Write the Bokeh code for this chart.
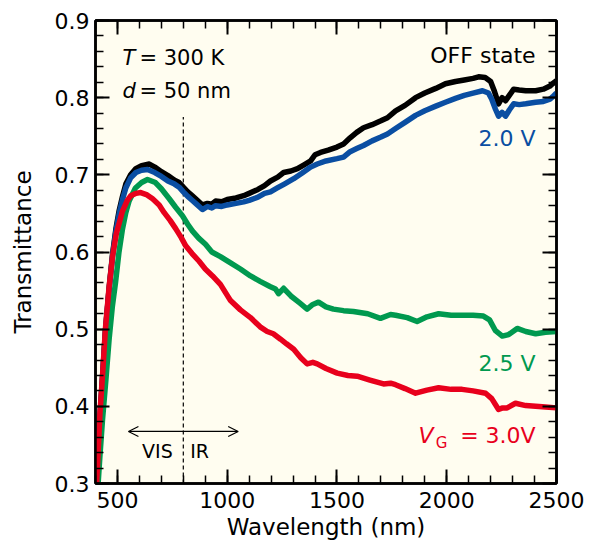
from bokeh.plotting import figure
from bokeh.models import (Range1d, LinearAxis, SingleIntervalTicker, Label, Arrow, OpenHead,
                          CustomJSTickFormatter)
from bokeh.embed import file_html
from bokeh.resources import INLINE

# ---- data ----
off_wl = [405, 412, 420, 432, 445, 462, 478, 493, 508, 523, 538, 560, 584, 610, 645, 670, 700, 730, 760, 781,
          800, 820, 840, 860, 887, 910, 930, 947, 975, 1000, 1040, 1075, 1100, 1140, 1170, 1197, 1230, 1257,
          1290, 1320, 1350, 1380, 1400, 1425, 1460, 1500, 1530, 1560, 1590, 1621, 1660, 1700, 1730, 1767,
          1810, 1858, 1900, 1950, 1994, 2040, 2080, 2120, 2145, 2175, 2200, 2215, 2236, 2252, 2268, 2285,
          2305, 2330, 2360, 2405, 2440, 2470, 2482, 2500]
off_t = [0.30, 0.34, 0.385, 0.438, 0.497, 0.553, 0.598, 0.630, 0.654, 0.672, 0.688, 0.700, 0.708, 0.712, 0.714,
         0.710, 0.704, 0.699, 0.693, 0.690, 0.684, 0.678, 0.673, 0.668, 0.661, 0.663, 0.662, 0.666, 0.665, 0.668,
         0.670, 0.673, 0.676, 0.681, 0.686, 0.692, 0.697, 0.703, 0.705, 0.708, 0.713, 0.718, 0.726, 0.729, 0.732,
         0.736, 0.740, 0.748, 0.755, 0.761, 0.765, 0.770, 0.774, 0.783, 0.790, 0.800, 0.806, 0.812, 0.818, 0.821,
         0.823, 0.825, 0.827, 0.826, 0.821, 0.810, 0.792, 0.800, 0.796, 0.803, 0.811, 0.810, 0.809, 0.809, 0.811,
         0.815, 0.818, 0.822]

v20_wl = [405, 412, 420, 432, 445, 462, 478, 493, 508, 523, 538, 560, 584, 610, 637, 670, 700, 730, 760, 781,
          800, 820, 840, 860, 887, 910, 930, 947, 975, 1000, 1040, 1075, 1100, 1140, 1170, 1197, 1228, 1260,
          1303, 1340, 1380, 1410, 1450, 1500, 1530, 1560, 1590, 1621, 1660, 1700, 1730, 1767, 1810, 1858, 1900,
          1950, 1994, 2040, 2080, 2120, 2163, 2190, 2205, 2222, 2236, 2252, 2268, 2285, 2305, 2330, 2360, 2405,
          2440, 2470, 2482, 2500]
v20_t = [0.30, 0.34, 0.385, 0.437, 0.496, 0.551, 0.596, 0.627, 0.650, 0.668, 0.683, 0.696, 0.703, 0.706, 0.707,
         0.703, 0.698, 0.692, 0.688, 0.684, 0.678, 0.672, 0.667, 0.662, 0.655, 0.659, 0.657, 0.660, 0.659, 0.661,
         0.663, 0.665, 0.667, 0.671, 0.676, 0.678, 0.683, 0.688, 0.695, 0.702, 0.710, 0.714, 0.718, 0.721, 0.723,
         0.730, 0.734, 0.738, 0.744, 0.749, 0.753, 0.760, 0.768, 0.777, 0.783, 0.789, 0.794, 0.799, 0.803, 0.806,
         0.809, 0.806, 0.798, 0.785, 0.776, 0.781, 0.776, 0.784, 0.792, 0.791, 0.792, 0.794, 0.795, 0.798, 0.801,
         0.806]

v25_wl = [412, 420, 432, 447, 462, 477, 491, 507, 523, 538, 553, 582, 610, 637, 673, 700, 736, 765, 796, 820,
          842, 870, 901, 930, 969, 1015, 1060, 1106, 1150, 1197, 1220, 1234, 1257, 1290, 1330, 1364, 1390, 1416,
          1450, 1484, 1530, 1575, 1640, 1698, 1744, 1767, 1820, 1865, 1910, 1963, 2020, 2070, 2120, 2167, 2195,
          2222, 2253, 2282, 2321, 2360, 2405, 2450, 2500]
v25_t = [0.30, 0.335, 0.383, 0.433, 0.487, 0.530, 0.560, 0.600, 0.630, 0.651, 0.666, 0.683, 0.690, 0.694, 0.690,
         0.682, 0.669, 0.658, 0.647, 0.636, 0.627, 0.618, 0.610, 0.600, 0.594, 0.586, 0.578, 0.569, 0.562, 0.555,
         0.552, 0.546, 0.553, 0.543, 0.534, 0.526, 0.532, 0.535, 0.529, 0.526, 0.524, 0.523, 0.520, 0.514, 0.519,
         0.518, 0.515, 0.510, 0.516, 0.520, 0.518, 0.518, 0.518, 0.517, 0.512, 0.498, 0.491, 0.493, 0.501, 0.497,
         0.494, 0.496, 0.497]

v30_wl = [405, 412, 420, 432, 445, 462, 478, 495, 523, 545, 561, 585, 606, 635, 660, 690, 713, 740, 766, 790,
          811, 840, 872, 900, 933, 969, 1015, 1060, 1106, 1150, 1182, 1210, 1243, 1270, 1303, 1335, 1364, 1390,
          1410, 1450, 1501, 1550, 1592, 1650, 1712, 1744, 1767, 1810, 1858, 1910, 1963, 2020, 2070, 2120, 2177,
          2205, 2236, 2255, 2275, 2313, 2360, 2405, 2450, 2500]
v30_t = [0.30, 0.34, 0.39, 0.44, 0.50, 0.555, 0.595, 0.624, 0.653, 0.667, 0.673, 0.676, 0.677, 0.674, 0.669,
         0.661, 0.651, 0.641, 0.630, 0.619, 0.608, 0.598, 0.588, 0.578, 0.569, 0.558, 0.537, 0.525, 0.515, 0.503,
         0.497, 0.494, 0.487, 0.481, 0.474, 0.463, 0.455, 0.457, 0.455, 0.449, 0.443, 0.440, 0.439, 0.434, 0.429,
         0.430, 0.428, 0.423, 0.417, 0.421, 0.424, 0.422, 0.422, 0.420, 0.417, 0.410, 0.396, 0.398, 0.398, 0.404,
         0.401, 0.400, 0.399, 0.398]

x_ticks_major = 500
x_ticks_minor_count = 5
y_ticks_major = 0.1
y_ticks_minor_count = 5
vis_ir_boundary = 800
boundary_top = 0.775
arrow_x = [550, 1050]
arrow_y = 0.3675

# ---- styles ----
FONT = "DejaVu Sans"
BG = "#FFFDF0"
C_OFF = "#000000"
C_20 = "#0A4EA2"
C_25 = "#00994F"
C_30 = "#E8001C"

p = figure(width=595, height=548, x_range=Range1d(400, 2500), y_range=Range1d(0.3, 0.9),
           output_backend="svg", toolbar_location=None,
           min_border_left=95, min_border_right=39, min_border_top=20, min_border_bottom=65,
           background_fill_color=BG, border_fill_color="white")
p.grid.visible = False
p.outline_line_color = "black"
p.outline_line_width = 2.5


def style_axis(ax, show_labels=True):
    ax.major_tick_in = 14
    ax.major_tick_out = 0
    ax.minor_tick_in = 8
    ax.minor_tick_out = 0
    ax.major_tick_line_width = 2
    ax.minor_tick_line_width = 1.5
    ax.major_tick_line_color = "black"
    ax.minor_tick_line_color = "black"
    ax.axis_line_width = 2.5
    ax.axis_line_color = "black"
    if show_labels:
        ax.major_label_text_font = FONT
        ax.major_label_text_font_size = "22px"
        ax.major_label_text_color = "black"
        ax.axis_label_text_font = FONT
        ax.axis_label_text_font_size = "23px"
        ax.axis_label_text_font_style = "normal"
        ax.axis_label_text_color = "black"
    else:
        ax.formatter = CustomJSTickFormatter(code="return ''")
        ax.major_label_standoff = 0


xt = SingleIntervalTicker(interval=x_ticks_major, num_minor_ticks=x_ticks_minor_count)
yt = SingleIntervalTicker(interval=y_ticks_major, num_minor_ticks=y_ticks_minor_count)

p.xaxis.ticker = xt
p.yaxis.ticker = yt
p.xaxis.axis_label = "Wavelength (nm)"
p.yaxis.axis_label = "Transmittance"
style_axis(p.xaxis[0])
style_axis(p.yaxis[0])
p.xaxis.major_label_standoff = 8
p.xaxis.axis_label_standoff = 3
p.xaxis.axis_label_text_baseline = "middle"
p.yaxis.major_label_standoff = 6
p.yaxis.axis_label_standoff = 16

top = LinearAxis(ticker=SingleIntervalTicker(interval=x_ticks_major, num_minor_ticks=x_ticks_minor_count))
style_axis(top, show_labels=False)
p.add_layout(top, "above")
right = LinearAxis(ticker=SingleIntervalTicker(interval=y_ticks_major, num_minor_ticks=y_ticks_minor_count))
style_axis(right, show_labels=False)
p.add_layout(right, "right")

# VIS / IR boundary and arrow
p.line([vis_ir_boundary, vis_ir_boundary], [0.3, boundary_top], line_color="black",
       line_width=1.2, line_dash="4 3")
p.add_layout(Arrow(start=OpenHead(size=10, line_width=1.2), end=OpenHead(size=10, line_width=1.2),
                   x_start=arrow_x[0], x_end=arrow_x[1], y_start=arrow_y, y_end=arrow_y,
                   line_width=1.2, line_color="black"))

# curves
p.line(off_wl, off_t, line_color=C_OFF, line_width=5.5, line_join="round")
p.line(v20_wl, v20_t, line_color=C_20, line_width=5.5, line_join="round")
p.line(v25_wl, v25_t, line_color=C_25, line_width=5.5, line_join="round")
p.line(v30_wl, v30_t, line_color=C_30, line_width=5.5, line_join="round")


def lab(x, y, text, color="black", size="22px", align="left", style="normal", baseline="middle"):
    p.add_layout(Label(x=x, y=y, text=text, text_color=color, text_font=FONT, text_font_size=size,
                       text_align=align, text_baseline=baseline, text_font_style=style))


lab(523, 0.851, "T", style="italic", size="21px")
lab(600, 0.851, "= 300 K", size="21px")
lab(523, 0.809, "d", style="italic", size="21px")
lab(600, 0.809, "= 50 nm", size="21px")

lab(2405, 0.8545, "OFF state", C_OFF, align="right")
lab(2405, 0.7468, "2.0 V", C_20, align="right")
lab(2405, 0.456, "2.5 V", C_25, align="right")
lab(2405, 0.362, "= 3.0V", C_30, align="right")
lab(1871, 0.362, "V", C_30, style="italic")
lab(1950, 0.352, "G", C_30, size="15px")

lab(682, 0.342, "VIS", size="19px", align="center")
lab(874, 0.342, "IR", size="19px", align="center")

open("out.html", "w").write(file_html(p, INLINE))
